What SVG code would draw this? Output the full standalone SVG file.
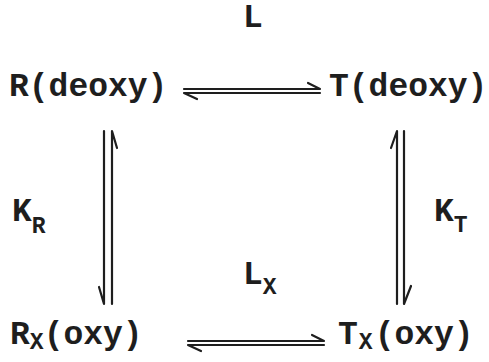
<svg xmlns="http://www.w3.org/2000/svg" width="489" height="362" viewBox="0 0 489 362">
<style>
.t{font-family:"Liberation Mono","Courier New",monospace;font-weight:bold;fill:#1e1e1e}
.m{font-size:33px}
.s{font-size:23px}
.a{stroke:#1e1e1e;stroke-width:2.2;fill:none;stroke-linecap:round;stroke-linejoin:round}
</style>
<rect width="489" height="362" fill="#ffffff"/>
<g id="connectors">
  <g id="L-eq">
    <path class="a" d="M184 89 H320 L308 83"/>
    <path class="a" d="M320 93 H184 L197 99"/>
  </g>
  <g id="Lx-eq">
    <path class="a" d="M188 341 H324 L312 335"/>
    <path class="a" d="M324 345 H188 L201 351"/>
  </g>
  <g id="KR-eq">
    <path class="a" d="M104 131 V304 L99 287"/>
    <path class="a" d="M112 304 V131 L117 148"/>
  </g>
  <g id="KT-eq">
    <path class="a" d="M397 304 V131 L391 148"/>
    <path class="a" d="M404 131 V304 L411 286"/>
  </g>
</g>
<g id="R-deoxy"><text class="t m" x="9" y="96">R(deoxy)</text></g>
<g id="T-deoxy"><text class="t m" x="329" y="96">T(deoxy)</text></g>
<g id="Rx-oxy"><text class="t m" x="10" y="344">R<tspan class="s" dy="5">X</tspan><tspan dy="-5">(oxy)</tspan></text></g>
<g id="Tx-oxy"><text class="t m" x="338" y="344">T<tspan class="s" dy="5" dx="1">X</tspan><tspan dy="-5" dx="2">(oxy)</tspan></text></g>
<g id="label-L"><text class="t m" x="243" y="27">L</text></g>
<g id="label-Lx"><text class="t m" x="243" y="284">L<tspan class="s" dy="10">X</tspan></text></g>
<g id="label-KR"><text class="t m" x="12" y="221">K<tspan class="s" dy="12">R</tspan></text></g>
<g id="label-KT"><text class="t m" x="434" y="221">K<tspan class="s" dy="11">T</tspan></text></g>
</svg>
